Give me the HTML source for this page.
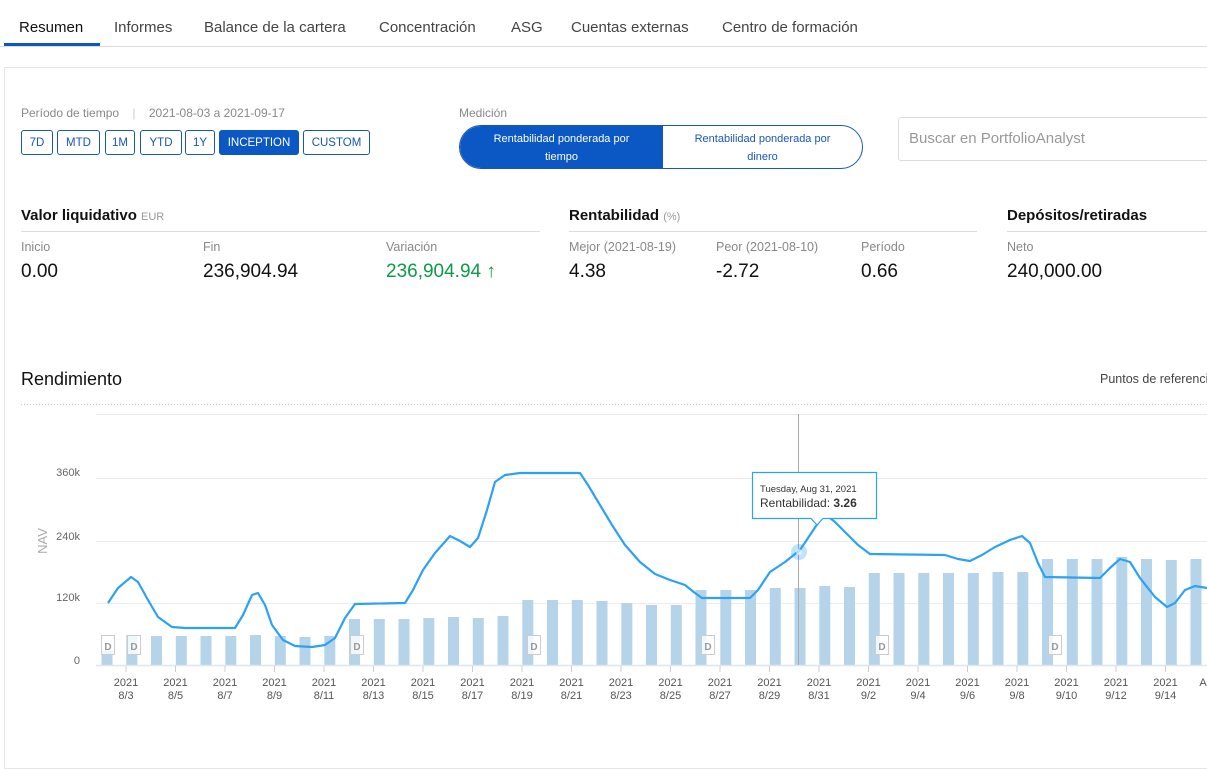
<!DOCTYPE html>
<html><head><meta charset="utf-8"><style>
body{margin:0;width:1207px;height:715px;overflow:hidden;background:#fff;font-family:"Liberation Sans",sans-serif;position:relative;color:#222}
.a{position:absolute;white-space:nowrap}
.tab{top:19px;font-size:15px;color:#444}
.btn{position:absolute;top:130px;height:23px;border:1px solid #1a56b8;border-radius:3px;color:#1a56b8;font-size:11.5px;line-height:24px;text-align:center;box-sizing:content-box}
.h{top:207px;font-size:15px;font-weight:bold;color:#111}
.h small{font-weight:normal;color:#999;font-size:11px}
.l{top:240px;font-size:12.5px;color:#888}
.v{top:261px;font-size:19px;color:#111}
.ln{position:absolute;top:231px;height:1px;background:#ddd}
</style></head><body>
<div class="a tab" style="left:19px;color:#111">Resumen</div>
<div class="a tab" style="left:114px">Informes</div>
<div class="a tab" style="left:204px">Balance de la cartera</div>
<div class="a tab" style="left:379px">Concentración</div>
<div class="a tab" style="left:511px">ASG</div>
<div class="a tab" style="left:571px">Cuentas externas</div>
<div class="a tab" style="left:722px">Centro de formación</div>
<div class="a" style="left:0;top:46px;width:1207px;height:1px;background:#ddd"></div>
<div class="a" style="left:4px;top:43px;width:96px;height:3px;background:#0b57c4"></div>
<div class="a" style="left:4px;top:67px;width:1210px;height:700px;border:1px solid #e6e6e6"></div>

<div class="a" style="left:21px;top:106px;font-size:12px;color:#888">Período de tiempo &nbsp;&nbsp; <span style="color:#ccc">|</span> &nbsp;&nbsp; 2021-08-03 a 2021-09-17</div>
<div class="btn" style="left:21px;width:30px">7D</div>
<div class="btn" style="left:57px;width:41px">MTD</div>
<div class="btn" style="left:105px;width:28px">1M</div>
<div class="btn" style="left:140px;width:40px">YTD</div>
<div class="btn" style="left:185px;width:28px">1Y</div>
<div class="btn" style="left:219px;width:78px;background:#0b57c4;color:#fff;border-color:#0b57c4">INCEPTION</div>
<div class="btn" style="left:303px;width:65px">CUSTOM</div>

<div class="a" style="left:459px;top:106px;font-size:12px;color:#888">Medición</div>
<div class="a" style="left:459px;top:125px;width:402px;height:42px;border:1px solid #1a56b8;border-radius:22px;overflow:hidden">
<div class="a" style="left:0;top:0;width:203px;height:42px;background:#0b57c4;color:#fff;font-size:11px;text-align:center;line-height:18px;padding-top:4px;white-space:normal">Rentabilidad ponderada por<br>tiempo</div>
<div class="a" style="left:203px;top:0;width:199px;height:42px;color:#1a56b8;font-size:11px;text-align:center;line-height:18px;padding-top:4px">Rentabilidad ponderada por<br>dinero</div>
</div>
<div class="a" style="left:898px;top:117px;width:320px;height:42px;border:1px solid #ddd;border-radius:3px"></div>
<div class="a" style="left:909px;top:130px;font-size:15px;color:#999">Buscar en PortfolioAnalyst</div>

<div class="a h" style="left:21px">Valor liquidativo <small>EUR</small></div>
<div class="a h" style="left:569px">Rentabilidad <small>(%)</small></div>
<div class="a h" style="left:1007px">Depósitos/retiradas</div>
<div class="ln" style="left:21px;width:519px"></div>
<div class="ln" style="left:569px;width:408px"></div>
<div class="ln" style="left:1007px;width:200px"></div>
<div class="a l" style="left:21px">Inicio</div>
<div class="a l" style="left:203px">Fin</div>
<div class="a l" style="left:386px">Variación</div>
<div class="a l" style="left:569px">Mejor (2021-08-19)</div>
<div class="a l" style="left:716px">Peor (2021-08-10)</div>
<div class="a l" style="left:861px">Período</div>
<div class="a l" style="left:1007px">Neto</div>
<div class="a v" style="left:21px">0.00</div>
<div class="a v" style="left:203px">236,904.94</div>
<div class="a v" style="left:386px;color:#0e9a48">236,904.94 <b>↑</b></div>
<div class="a v" style="left:569px">4.38</div>
<div class="a v" style="left:716px">-2.72</div>
<div class="a v" style="left:861px">0.66</div>
<div class="a v" style="left:1007px">240,000.00</div>

<div class="a" style="left:21px;top:369px;font-size:18px;color:#111">Rendimiento</div>
<div class="a" style="left:1100px;top:372px;font-size:12.5px;color:#444">Puntos de referencia</div>

<svg class="a" style="left:0;top:0" width="1207" height="715" font-family="Liberation Sans, sans-serif">
<line x1="21" y1="404.5" x2="1207" y2="404.5" stroke="#ccc" stroke-dasharray="1,2"/>
<g stroke="#ececec"><line x1="96" y1="414.5" x2="1207" y2="414.5"/><line x1="96" y1="478.5" x2="1207" y2="478.5"/><line x1="96" y1="541.5" x2="1207" y2="541.5"/><line x1="96" y1="603.5" x2="1207" y2="603.5"/></g>
<g font-size="11" fill="#666" text-anchor="end"><text x="80" y="476">360k</text><text x="80" y="540">240k</text><text x="80" y="601">120k</text><text x="80" y="664">0</text></g>
<text x="47" y="541" font-size="13" fill="#aaa" text-anchor="middle" transform="rotate(-90 47 541)">NAV</text>
<g id="bars" fill="#b5d4ea"></g>
<line x1="96" y1="665.5" x2="1207" y2="665.5" stroke="#dfe5f0" stroke-width="1.5"/>
<g id="xl" font-size="11" fill="#555" text-anchor="middle"></g>
<line x1="798.5" y1="414" x2="798.5" y2="665" stroke="#aaa"/>
<polyline fill="none" stroke="#2ba2f5" stroke-width="2.2" stroke-linejoin="round" points="108,603 118,588 131,577 138,582 148,600 158,617 172,627 185,628 235,628 243,615 252,595 258,593 265,605 272,625 283,640 295,646 312,647 325,645 335,638 345,618 355,604 405,603 413,590 423,570 435,553 450,536 460,541 470,547 478,538 487,510 495,482 505,475 520,473 580,473 588,485 600,505 612,525 625,545 640,562 655,574 670,580 685,585 695,593 702,598 750,598 758,590 770,572 785,562 800,550 810,535 818,523 825,514 835,522 845,532 858,545 870,554 945,555 958,559 970,561 982,555 995,547 1010,540 1022,536 1030,543 1038,563 1045,577 1100,578 1110,568 1120,559 1130,562 1140,578 1155,597 1167,607 1175,603 1185,590 1195,586 1207,588"/>
<circle cx="799" cy="552" r="8" fill="#2ba2f5" fill-opacity="0.3"/>
<circle cx="799" cy="552" r="3" fill="#fff" fill-opacity="0.6"/>
<g id="dm"></g>
<path d="M752.5,472.5 H876.5 V518.5 H823 L817,525 L811,518.5 H752.5 Z" fill="#fff" stroke="#2ba2f5" stroke-width="1.2"/>
<text x="760" y="492" font-size="9.5" fill="#333">Tuesday, Aug 31, 2021</text>
<text x="760" y="507" font-size="12" fill="#333">Rentabilidad: <tspan font-weight="bold">3.26</tspan></text>
</svg>
<script>
var tops=[651,635,636,636,636,636,635,636,637,636,619,619,619,618,617,618,616,600,600,600,601,603,605,605,590,590,590,588,588,586,587,573,573,573,573,573,572,572,559,559,559,557,559,560,559];
var b='';tops.forEach(function(t,i){var x=107+i*24.75-5.5;b+='<rect x="'+x.toFixed(1)+'" y="'+t+'" width="11" height="'+(665-t)+'"/>';});
document.getElementById('bars').innerHTML=b;
var labs=['8/3','8/5','8/7','8/9','8/11','8/13','8/15','8/17','8/19','8/21','8/23','8/25','8/27','8/29','8/31','9/2','9/4','9/6','9/8','9/10','9/12','9/14'];
var s='';labs.forEach(function(l,k){var x=126+k*49.5;s+='<line x1="'+x+'" y1="666" x2="'+x+'" y2="672" stroke="#ccd"/><text x="'+x+'" y="686">2021</text><text x="'+x+'" y="699">'+l+'</text>';});
s+='<text x="1203" y="686">A</text>';
document.getElementById('xl').innerHTML=s;
var d='';[108,134,357,534,708,882,1055].forEach(function(x){d+='<rect x="'+(x-6.5)+'" y="635.5" width="13" height="19" fill="#fff" fill-opacity="0.8" stroke="#ccc"/><text x="'+x+'" y="650" font-size="10" font-weight="bold" fill="#999" text-anchor="middle">D</text>';});
document.getElementById('dm').innerHTML=d;
</script>
</body></html>
